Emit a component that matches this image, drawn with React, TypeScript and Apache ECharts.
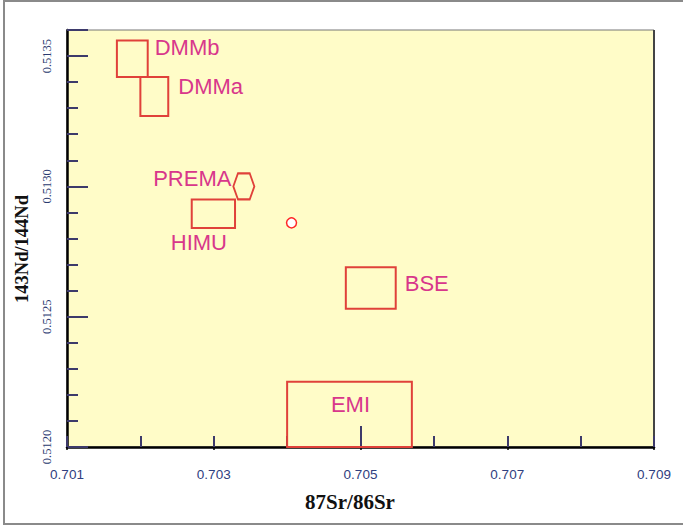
import { useEffect, useRef } from 'react';
import * as echarts from 'echarts';

// Mantle reservoir fields: 87Sr/86Sr range (srLow–srHigh) and 143Nd/144Nd range (ndLow–ndHigh)
const reservoirNames = ['DMMb', 'DMMa', 'HIMU', 'BSE', 'EMI'];
const srLow = [0.70168, 0.702, 0.7027, 0.7048, 0.704];
const srHigh = [0.7021, 0.70238, 0.70329, 0.70548, 0.7057];
const ndLow = [0.51342, 0.51327, 0.51284, 0.51253, 0.512];
const ndHigh = [0.51356, 0.51342, 0.51295, 0.51269, 0.51225];

// PREMA is plotted as a single hexagon marker
const premaName = 'PREMA';
const premaSr = [0.70341];
const premaNd = [0.513];

// Measured sample
const sampleSr = [0.70406];
const sampleNd = [0.51286];

// Axis ranges and labelled ticks
const srRange = [0.701, 0.709];
const ndRange = [0.512, 0.5136];
const srTickLabels = [0.701, 0.703, 0.705, 0.707, 0.709];
const ndTickLabels = [0.512, 0.5125, 0.513, 0.5135];
const srLongTicks = [0.705];

const BOX_RED = '#e0413a';
const LABEL_PINK = '#d8378b';
const TICK = '#3d3a6b';
const LABEL_FONT = '"Liberation Sans", Arial, sans-serif';
const SERIF = '"Liberation Serif", "Times New Roman", serif';

type Placement = { fromX: 'left' | 'right' | 'center'; dx: number; fromY: 'top' | 'bottom'; dy: number; align: 'left' | 'center' };
const labelPlacement: Record<string, Placement> = {
  DMMb: { fromX: 'right', dx: 7, fromY: 'top', dy: 7, align: 'left' },
  DMMa: { fromX: 'right', dx: 10, fromY: 'top', dy: 10, align: 'left' },
  HIMU: { fromX: 'left', dx: -21, fromY: 'bottom', dy: 14, align: 'left' },
  BSE: { fromX: 'right', dx: 9, fromY: 'top', dy: 16, align: 'left' },
  EMI: { fromX: 'center', dx: 1, fromY: 'top', dy: 23, align: 'center' },
};

const hexagon = 'path://M0.22,0 L0.78,0 L1,0.5 L0.78,1 L0.22,1 L0,0.5 Z';

export default function App() {
  const ref = useRef<HTMLDivElement>(null);

  useEffect(() => {
    if (!ref.current) return;
    const chart = echarts.init(ref.current, null, { renderer: 'svg' });

    const baseX = { type: 'value' as const, min: srRange[0], max: srRange[1], position: 'bottom' as const, splitLine: { show: false }, scale: true };

    const option: any = {
      animation: false,
      backgroundColor: '#ffffff',
      grid: {
        left: 67,
        right: 29,
        top: 30,
        bottom: 80,
        show: true,
        backgroundColor: '#fffcc8',
        borderColor: '#777777',
        borderWidth: 1,
      },
      xAxis: [
        {
          ...baseX,
          interval: 0.002,
          axisLine: { show: true, onZero: false, lineStyle: { color: '#000', width: 2.5 } },
          axisTick: { show: true, inside: false, length: 3, customValues: srTickLabels, lineStyle: { color: '#000', width: 1.5 } },
          axisLabel: {
            customValues: srTickLabels,
            margin: 20,
            fontSize: 13.5,
            fontFamily: LABEL_FONT,
            color: '#2f4080',
            formatter: (v: number) => v.toFixed(3),
          },
        },
        {
          ...baseX,
          interval: 0.001,
          axisLine: { show: false },
          axisTick: { show: true, inside: true, length: 11, lineStyle: { color: TICK, width: 2 } },
          axisLabel: { show: false },
        },
        {
          ...baseX,
          axisLine: { show: false },
          axisTick: { show: true, inside: true, length: 21, customValues: srLongTicks, lineStyle: { color: TICK, width: 2 } },
          axisLabel: { show: false },
        },
      ],
      yAxis: [
        {
          type: 'value',
          min: ndRange[0],
          max: ndRange[1],
          interval: 0.0005,
          position: 'left',
          scale: true,
          splitLine: { show: false },
          axisLine: { show: true, onZero: false, lineStyle: { color: '#000', width: 2.5 } },
          axisTick: { show: true, inside: true, length: 21, lineStyle: { color: TICK, width: 2 } },
          minorTick: { show: true, splitNumber: 5, length: 11, lineStyle: { color: TICK, width: 2 } },
          axisLabel: {
            customValues: ndTickLabels,
            rotate: 90,
            margin: 14,
            fontSize: 12.5,
            fontFamily: SERIF,
            color: '#2a3a70',
            formatter: (v: number) => v.toFixed(4),
          },
        },
      ],
      series: [
        {
          type: 'custom',
          name: 'reservoirs',
          xAxisIndex: 0,
          yAxisIndex: 0,
          encode: { x: [0, 1], y: [2, 3] },
          data: reservoirNames.map((_, i) => [srLow[i], srHigh[i], ndLow[i], ndHigh[i]]),
          renderItem: (params: any, api: any) => {
            const name = reservoirNames[params.dataIndex];
            const tl = api.coord([api.value(0), api.value(3)]);
            const br = api.coord([api.value(1), api.value(2)]);
            const pl = labelPlacement[name];
            const ax = pl.fromX === 'right' ? br[0] : pl.fromX === 'left' ? tl[0] : (tl[0] + br[0]) / 2;
            const ay = pl.fromY === 'top' ? tl[1] : br[1];
            return {
              type: 'group',
              children: [
                {
                  type: 'rect',
                  shape: { x: tl[0], y: tl[1], width: br[0] - tl[0], height: br[1] - tl[1] },
                  style: { fill: 'none', stroke: BOX_RED, lineWidth: 2 },
                },
                {
                  type: 'text',
                  x: ax + pl.dx,
                  y: ay + pl.dy,
                  style: {
                    text: name,
                    fill: LABEL_PINK,
                    fontSize: 22,
                    fontFamily: LABEL_FONT,
                    align: pl.align,
                    verticalAlign: 'middle',
                  },
                },
              ],
            };
          },
        },
        {
          type: 'scatter',
          name: premaName,
          xAxisIndex: 0,
          yAxisIndex: 0,
          data: premaSr.map((s, i) => [s, premaNd[i]]),
          symbol: hexagon,
          symbolSize: [21, 26],
          itemStyle: { color: 'rgba(0,0,0,0)', borderColor: BOX_RED, borderWidth: 2, opacity: 1 },
          label: {
            show: true,
            position: 'left',
            distance: 1,
            offset: [0, -8],
            formatter: premaName,
            color: LABEL_PINK,
            fontSize: 22,
            fontFamily: LABEL_FONT,
          },
        },
        {
          type: 'scatter',
          name: 'sample',
          xAxisIndex: 0,
          yAxisIndex: 0,
          data: sampleSr.map((s, i) => [s, sampleNd[i]]),
          symbol: 'circle',
          symbolSize: 10,
          itemStyle: { color: '#ffffff', borderColor: '#ff2626', borderWidth: 1.5, opacity: 1 },
        },
      ],
      graphic: [
        {
          type: 'rect',
          silent: true,
          shape: { x: 4, y: 1, width: 700, height: 523 },
          style: { fill: 'none', stroke: '#8a8a8a', lineWidth: 2 },
        },
        {
          type: 'line',
          silent: true,
          shape: { x1: 654, y1: 30, x2: 654, y2: 447 },
          style: { stroke: '#444444', lineWidth: 2 },
        },
        {
          type: 'text',
          x: 22,
          y: 249,
          rotation: Math.PI / 2,
          style: {
            text: '143Nd/144Nd',
            fontSize: 18.5,
            fontWeight: 'bold',
            fontFamily: SERIF,
            fill: '#111',
            align: 'center',
            verticalAlign: 'middle',
          },
        },
        {
          type: 'text',
          x: 350,
          y: 502,
          style: {
            text: '87Sr/86Sr',
            fontSize: 21,
            fontWeight: 'bold',
            fontFamily: SERIF,
            fill: '#111',
            align: 'center',
            verticalAlign: 'middle',
          },
        },
      ],
    };

    chart.setOption(option);
    return () => chart.dispose();
  }, []);

  return (
    <div
      ref={ref}
      style={{ position: 'fixed', left: 0, top: 0, width: 683, height: 527, background: '#fff' }}
    />
  );
}
